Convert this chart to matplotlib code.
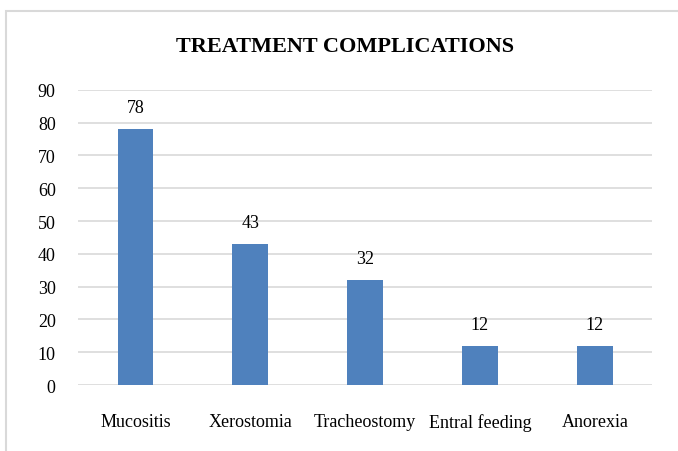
import matplotlib.pyplot as plt
from matplotlib.patches import Rectangle

# complication counts
categories = ["Mucositis", "Xerostomia", "Tracheostomy", "Entral feeding", "Anorexia"]
counts = [78, 43, 32, 12, 12]
yticks = [0, 10, 20, 30, 40, 50, 60, 70, 80, 90]

plt.rcParams['font.family'] = ['Liberation Serif', 'DejaVu Serif']

fig = plt.figure(figsize=(6.78, 4.52), dpi=100)
ax = fig.add_axes([0.115, 0.146, 0.847, 0.653])

# chart frame, open on the right and bottom
fig.patches.append(Rectangle((6 / 678, -0.5), 2.0, 1.5 - 12 / 452,
                             transform=fig.transFigure, fill=False,
                             edgecolor="#D9D9D9", linewidth=1.5))

x = range(len(categories))
bars = ax.bar(x, counts, width=0.31, color="#4F81BD", zorder=3)
for b, v in zip(bars, counts):
    ax.text(b.get_x() + b.get_width() / 2, v + 4, str(v),
            ha="center", va="bottom", fontsize=13)

ax.set_xlim(-0.5, len(categories) - 0.5)
ax.set_ylim(0, 90)
ax.set_yticks(yticks)
ax.set_xticks(list(x))
ax.set_xticklabels(categories)
ax.tick_params(axis="both", length=0, labelsize=13)
ax.tick_params(axis="x", pad=20)
ax.tick_params(axis="y", pad=16)
ax.grid(axis="y", color="#D9D9D9", linewidth=1.2, zorder=0)
for s in ax.spines.values():
    s.set_visible(False)

fig.text(0.509, 0.895, "TREATMENT COMPLICATIONS", ha="center", va="center",
         fontsize=16, fontweight="bold")

fig.savefig("out.png", dpi=100)
